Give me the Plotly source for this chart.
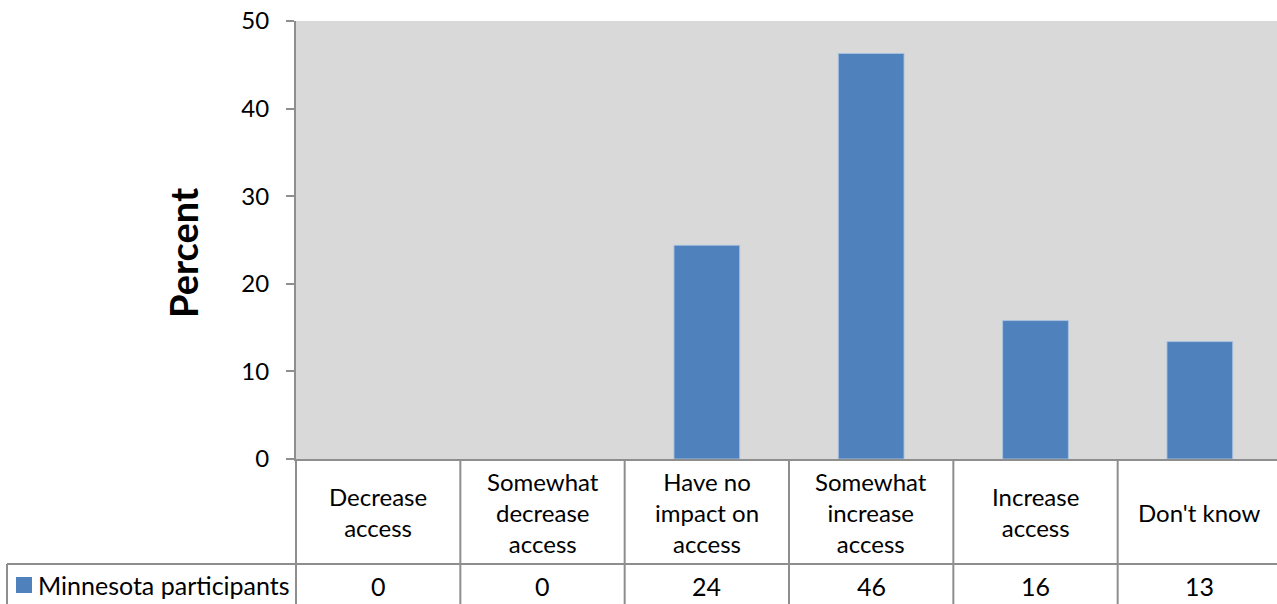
import plotly.graph_objects as go

categories = ["Decrease<br>access", "Somewhat<br>decrease<br>access", "Have no<br>impact on<br>access",
              "Somewhat<br>increase<br>access", "Increase<br>access", "Don't know"]
values = [0, 0, 24.4, 46.3, 15.8, 13.4]
series_name = "Minnesota participants"
y_ticks = [0, 10, 20, 30, 40, 50]

W, H = 1277, 604
L, R, T, B = 296, 0, 21, 145
plot_w = W - L - R
plot_h = H - T - B
xmin, xmax = -0.5, 5.5 - 5 / 164.3

FONT = "Lato"
BAR = "#4F81BD"
GRID = "#8E8E8E"
FS = 25

def px_to_px(px):
    return (px - L) / plot_w

def py_to_py(py):
    return (H - B - py) / plot_h

def xdata_to_paper(x):
    return (x - xmin) / (xmax - xmin)

xs = list(range(len(categories)))

fig = go.Figure()
fig.add_trace(go.Bar(
    x=xs, y=values, name=series_name, width=0.4,
    marker=dict(color=BAR, line=dict(color="rgba(170,195,225,0.9)",
                                     width=[0 if v == 0 else 1 for v in values])),
    showlegend=False,
))

shapes = []
line = dict(color=GRID, width=2)
for i in range(len(categories)):
    xp = xdata_to_paper(i - 0.5)
    shapes.append(dict(type="line", xref="paper", yref="paper", x0=xp, x1=xp,
                       y0=0, y1=py_to_py(H + 10), line=line))
shapes.append(dict(type="line", xref="paper", yref="paper", x0=px_to_px(7), x1=1.01,
                   y0=py_to_py(564), y1=py_to_py(564), line=line))
shapes.append(dict(type="line", xref="paper", yref="paper", x0=px_to_px(7), x1=px_to_px(7),
                   y0=py_to_py(564), y1=py_to_py(H + 10), line=line))
shapes.append(dict(type="rect", xref="paper", yref="paper", x0=px_to_px(16), x1=px_to_px(32),
                   y0=py_to_py(593), y1=py_to_py(577), fillcolor=BAR, line=dict(width=0)))

annotations = []
for i, (c, v) in enumerate(zip(categories, values)):
    annotations.append(dict(x=i, xref="x", y=py_to_py(512), yref="paper", text=c,
                            showarrow=False, xanchor="center", yanchor="middle",
                            font=dict(family=FONT, size=24, color="#000000")))
    annotations.append(dict(x=i, xref="x", y=py_to_py(586), yref="paper", text=str(round(v)),
                            showarrow=False, xanchor="center", yanchor="middle",
                            font=dict(family=FONT, size=FS, color="#000000")))
annotations.append(dict(x=px_to_px(36), xref="paper", y=py_to_py(585), yref="paper",
                        text=series_name, showarrow=False, xanchor="left", yanchor="middle",
                        font=dict(family=FONT, size=FS, color="#000000")))
annotations.append(dict(x=px_to_px(183), xref="paper", y=py_to_py(253), yref="paper",
                        text="<b>Percent</b>", textangle=-90, showarrow=False,
                        xanchor="center", yanchor="middle",
                        font=dict(family=FONT, size=38, color="#000000")))

fig.update_layout(
    width=W, height=H, autosize=False,
    margin=dict(l=L, r=R, t=T, b=B, pad=0),
    paper_bgcolor="#FFFFFF", plot_bgcolor="#D9D9D9",
    font=dict(family=FONT, size=FS, color="#000000"),
    shapes=shapes, annotations=annotations,
    xaxis=dict(range=[xmin, xmax], showticklabels=False, ticks="", showgrid=False,
               zeroline=False, showline=True, linecolor=GRID, linewidth=2, fixedrange=True),
    yaxis=dict(range=[0, 50], tickvals=y_ticks, ticks="outside", ticklen=8, tickcolor=GRID,
               tickwidth=2, showgrid=False, zeroline=False, showline=True, linecolor=GRID,
               linewidth=2, ticklabelstandoff=12,
               tickfont=dict(family=FONT, size=24, color="#000000"), fixedrange=True),
    bargap=0.6,
)

fig.write_html("out.html", config={"displayModeBar": False},
               post_script="document.body.style.margin='0px';document.body.style.overflow='hidden';")
